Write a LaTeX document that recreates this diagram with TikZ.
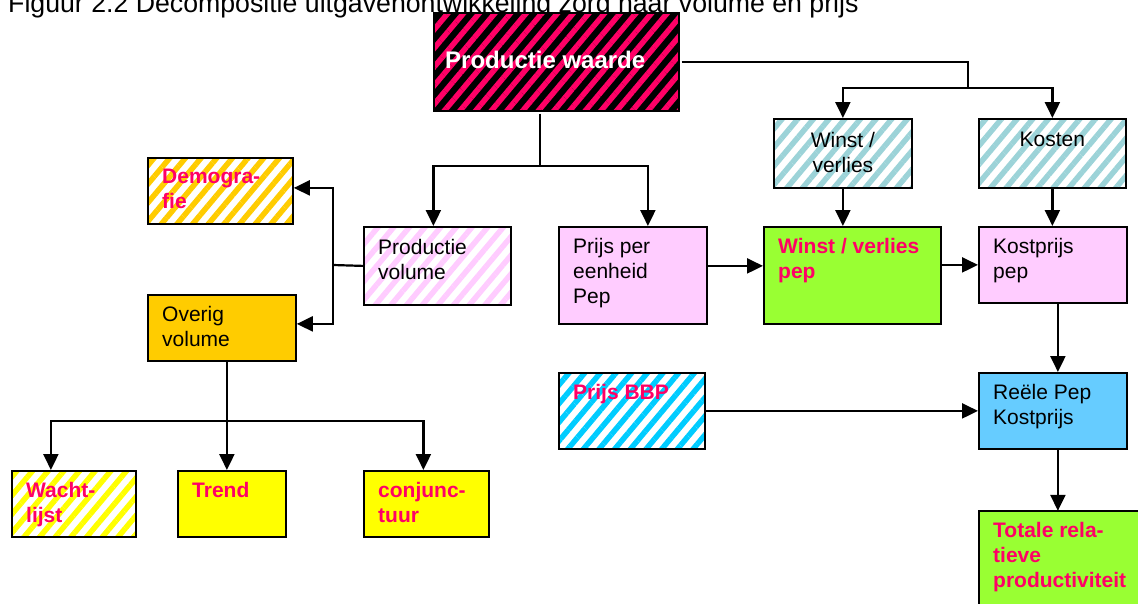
\documentclass[tikz,border=0pt]{standalone}
\usepackage{fontspec}
\setmainfont{Liberation Sans}
\usetikzlibrary{arrows.meta,patterns.meta}

\definecolor{accent}{HTML}{FF0066}
\definecolor{gold}{HTML}{FFCC00}
\definecolor{lichtroze}{HTML}{FFCCFF}
\definecolor{geel}{HTML}{FFFF00}
\definecolor{turkoois}{HTML}{9CD3D8}
\definecolor{groen}{HTML}{99FF33}
\definecolor{cyaan}{HTML}{00CCFF}
\definecolor{hemel}{HTML}{66CCFF}

\begin{document}
\begin{tikzpicture}[x=1pt,y=-1pt]

\tikzstyle{BOX} = [rectangle, draw=black, line width=1.8pt, anchor=north west, inner sep=0pt]
\tikzstyle{TXT} = [anchor=north west, align=left, inner sep=0pt, xshift=15pt, yshift=-12pt, font=\fontsize{21}{25}\selectfont]
\tikzstyle{CTXT} = [anchor=north, align=center, inner sep=0pt, yshift=-14pt, font=\fontsize{21}{25}\selectfont]
\tikzstyle{ROOD} = [text=accent, font=\fontsize{21}{25}\selectfont\bfseries]
\tikzstyle{line} = [line width=2.2pt]
\tikzstyle{arrow} = [line width=2.2pt, -{Triangle[length=16pt,width=15pt]}]
\tikzset{HATCH/.style={pattern={Lines[angle=50,distance=12pt,line width=5.5pt]}, pattern color=#1}}

\useasboundingbox (0,0) rectangle (1138,603);
\clip (0,0) rectangle (1138,603);

% titel, bovenkant valt buiten beeld
\node (titel) [anchor=base west, inner sep=0pt, font=\fontsize{26.7}{30}\selectfont] at (8,12) {Figuur 2.2 Decompositie uitgavenontwikkeling zorg naar volume en prijs};

\node (pw) [BOX, minimum width=245pt, minimum height=98pt, preaction={fill=black}, HATCH=accent, label={[anchor=north west, inner sep=0pt, font=\fontsize{24}{28}\selectfont\bfseries, text=white, text height=17pt, xshift=14pt, yshift=-41pt]north west:Productie waarde}] at (431,10) {};

% volume kant
\node (demo) [BOX, minimum width=145pt, minimum height=66pt, preaction={fill=white}, HATCH=gold, label={[TXT, ROOD]north west:Demogra-\\fie}] at (147,157) {};
\node (overig) [BOX, minimum width=148pt, minimum height=66pt, fill=gold, label={[TXT]north west:Overig\\volume}] at (147,294) {};
\node (pvol) [BOX, minimum width=147pt, minimum height=78pt, preaction={fill=white}, HATCH=lichtroze, label={[TXT, yshift=-1pt]north west:Productie\\volume}] at (363,226) {};
\node (wacht) [BOX, minimum width=124pt, minimum height=66pt, preaction={fill=white}, HATCH=geel, label={[TXT, ROOD]north west:Wacht-\\lijst}] at (11,470) {};
\node (trend) [BOX, minimum width=108pt, minimum height=66pt, fill=geel, label={[TXT, ROOD]north west:Trend}] at (177,470) {};
\node (conj) [BOX, minimum width=125pt, minimum height=66pt, fill=geel, label={[TXT, ROOD]north west:conjunc-\\tuur}] at (363,470) {};

% prijs kant
\node (ppe) [BOX, minimum width=148pt, minimum height=97pt, fill=lichtroze, label={[TXT]north west:Prijs per\\eenheid\\Pep}] at (558,226) {};
\node (wv) [BOX, minimum width=138pt, minimum height=69pt, preaction={fill=white}, HATCH=turkoois, label={[CTXT]north:Winst /\\verlies}] at (773,118) {};
\node (kost) [BOX, minimum width=147pt, minimum height=69pt, preaction={fill=white}, HATCH=turkoois, label={[CTXT]north:Kosten}] at (978,118) {};
\node (wvp) [BOX, minimum width=177pt, minimum height=97pt, fill=groen, label={[TXT, ROOD]north west:Winst / verlies\\pep}] at (763,226) {};
\node (kpp) [BOX, minimum width=148pt, minimum height=76pt, fill=lichtroze, label={[TXT]north west:Kostprijs\\pep}] at (978,226) {};
\node (bbp) [BOX, minimum width=146pt, minimum height=76pt, preaction={fill=white}, HATCH=cyaan, label={[TXT, ROOD]north west:Prijs BBP}] at (558,372) {};
\node (reele) [BOX, minimum width=148pt, minimum height=76pt, fill=hemel, label={[TXT]north west:Reële Pep\\Kostprijs}] at (978,372) {};
\node (totale) [BOX, minimum width=180pt, minimum height=110pt, fill=groen, label={[TXT, ROOD]north west:Totale rela-\\tieve\\productiviteit}] at (978,510) {};

\coordinate (splitR) at (968,88);
\coordinate (splitL) at (540,166);
\coordinate (splitV) at (333,265);
\coordinate (splitO) at (227,421);

\draw[line] (pw.east) -| (splitR);
\draw[arrow] (splitR) -| (wv.north);
\draw[arrow] (splitR) -| (kost.north);

\draw[line] (pw.south -| splitL) -- (splitL);
\draw[arrow] (splitL) -| ([xshift=-4pt]pvol.north);
\draw[arrow] (splitL) -| ([xshift=15pt]ppe.north);

\draw[line] (pvol.west) -- (splitV);
\draw[arrow] (splitV) |- ([yshift=3pt]demo.east);
\draw[arrow] (splitV) |- ([yshift=4pt]overig.east);

\draw[line] (overig.south -| splitO) -- (splitO);
\draw[arrow] (splitO) -| ([xshift=-23pt]wacht.north);
\draw[arrow] (splitO) -| ([xshift=-5pt]trend.north);
\draw[arrow] (splitO) -| ([xshift=-3pt]conj.north);

\draw[arrow] ([yshift=9.5pt]ppe.east) -- ([yshift=9.5pt]wvp.west);
\draw[arrow] (wv.south) -- (wv.south |- wvp.north);
\draw[arrow] (wvp.east |- kpp.west) -- (kpp.west);
\draw[arrow] (kost.south) -- (kost.south |- kpp.north);
\draw[arrow] ([xshift=5pt]kpp.south) -- ([xshift=5pt]reele.north);
\draw[arrow] (bbp.east) -- (reele.west);
\draw[arrow] ([xshift=5pt]reele.south) -- ++(0,61);

\end{tikzpicture}
\end{document}
